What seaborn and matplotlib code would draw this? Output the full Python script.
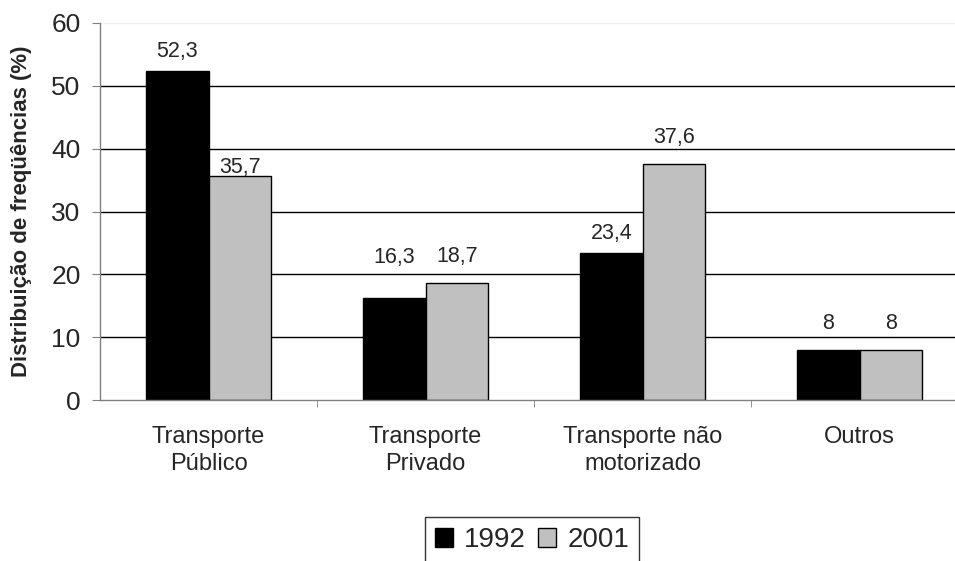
import pandas as pd
import seaborn as sns
import matplotlib.pyplot as plt
from matplotlib.ticker import FixedLocator

sns.set_style('white')
plt.rcParams['font.family'] = ['Liberation Sans', 'DejaVu Sans']

categories = ['Transporte\nPúblico', 'Transporte\nPrivado', 'Transporte não\nmotorizado', 'Outros']
years = ['1992', '2001']
values_1992 = [52.3, 16.3, 23.4, 8]
values_2001 = [35.7, 18.7, 37.6, 8]
value_labels_1992 = ['52,3', '16,3', '23,4', '8']
value_labels_2001 = ['35,7', '18,7', '37,6', '8']
y_ticks = [0, 10, 20, 30, 40, 50, 60]

# label offsets above the bars (points), as placed in the original
pad_1992 = [6.5, 21.5, 6.5, 11]
pad_2001 = [-1.5, 11.5, 11.5, 11]

df = pd.DataFrame({
    'categoria': categories * 2,
    'ano': [years[0]] * 4 + [years[1]] * 4,
    'valor': values_1992 + values_2001,
})

fig = plt.figure(figsize=(9.55, 5.61), dpi=100)
ax = fig.add_axes([100 / 955, 161 / 561, 868 / 955, 377 / 561])

for t in y_ticks[1:-1]:
    ax.axhline(t, color='black', lw=1, zorder=0)
ax.axhline(60, color='#f0f0f0', lw=1, zorder=0)

sns.barplot(data=df, x='categoria', y='valor', hue='ano', order=categories,
            palette=['black', '#c0c0c0'], width=0.576, edgecolor='black',
            linewidth=1, saturation=1, ax=ax, legend=True, zorder=2)

for cont, labs, pads in zip(ax.containers, [value_labels_1992, value_labels_2001], [pad_1992, pad_2001]):
    for bar, lab, p in zip(cont, labs, pads):
        ax.annotate(lab, (bar.get_x() + bar.get_width() / 2, bar.get_height()),
                    xytext=(0, p), textcoords='offset points',
                    ha='center', va='bottom', fontsize=15.5)

ax.set_xlim(-0.5, 3.5)
ax.set_ylim(0, 60)
ax.set_yticks(y_ticks)
ax.tick_params(axis='y', labelsize=19, length=6, color='#808080', direction='out', left=True, pad=8)
ax.tick_params(axis='x', which='major', labelsize=17, length=0, pad=19)
for lbl in ax.get_xticklabels():
    lbl.set_linespacing(1.3)
ax.xaxis.set_minor_locator(FixedLocator([0.5, 1.5, 2.5]))
ax.tick_params(axis='x', which='minor', length=5, color='#808080', direction='out', bottom=True)
ax.set_xlabel('')
ax.set_ylabel('Distribuição de freqüências (%)', fontsize=16, fontweight='bold', labelpad=14)

for s in ['top', 'right']:
    ax.spines[s].set_visible(False)
for s in ['left', 'bottom']:
    ax.spines[s].set_color('#808080')
    ax.spines[s].set_linewidth(1)

handles, labels = ax.get_legend_handles_labels()
ax.legend().remove()
leg = fig.legend(handles, labels, loc='upper center', bbox_to_anchor=(532 / 955, 1 - 517 / 561),
                 ncol=2, fontsize=20, frameon=True, fancybox=False, handlelength=0.65,
                 handleheight=0.65, handletextpad=0.4, columnspacing=0.45, borderpad=0.36,
                 borderaxespad=0)
leg.get_frame().set_edgecolor('black')
leg.get_frame().set_linewidth(1)

fig.savefig('out.png', dpi=100)
